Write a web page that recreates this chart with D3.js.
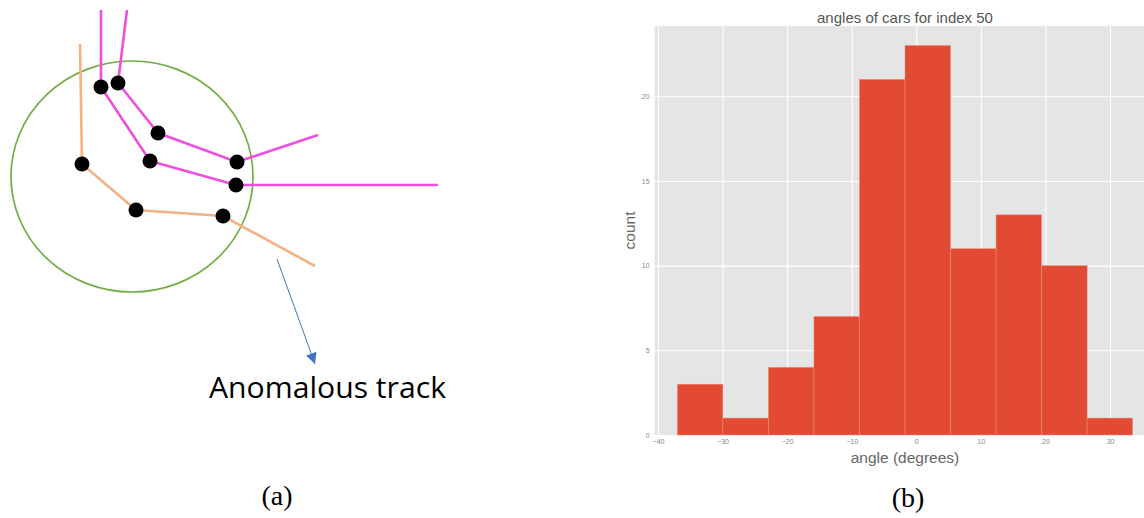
<!DOCTYPE html>
<html>
<head>
<meta charset="utf-8">
<script src="https://cdn.jsdelivr.net/npm/d3@7"></script>
<style>
  html, body { margin: 0; padding: 0; background: #fff; }
  svg { display: block; }
</style>
</head>
<body>
<svg id="fig" width="1144" height="518"></svg>
<script>
// ---------- panel (a): track diagram (sketch coordinates) ----------
const pinkTrackA = [[101, 10], [101, 87], [150, 161], [236, 185], [438, 185]];
const pinkTrackB = [[127, 10], [118, 83], [158, 133], [237, 162], [318, 135]];
const orangeTrack = [[80, 44], [82, 164], [136, 210], [223, 216], [315, 266]];
const detections = [
  [101, 87], [118, 83], [158, 133], [150, 161], [237, 162],
  [236, 185], [82, 164], [136, 210], [223, 216]
];
const gateCentre = [132, 176.5];
const gateRadii = [121, 115.5];
const arrowFrom = [277, 259];
const arrowTo = [315, 364];
const calloutText = "Anomalous track";

// ---------- panel (b): histogram ----------
const binEdges = [-37.0, -29.95, -22.9, -15.85, -8.8, -1.75, 5.3, 12.35, 19.4, 26.45, 33.5];
const counts = [3, 1, 4, 7, 21, 23, 11, 13, 10, 1];
const xTicks = [-40, -30, -20, -10, 0, 10, 20, 30];
const yTicks = [0, 5, 10, 15, 20];
const xDomain = [-40.525, 37.025];
const yDomain = [0, 24.15];
const histTitle = "angles of cars for index 50";
const xLabel = "angle (degrees)";
const yLabel = "count";

const svg = d3.select("#fig");

// ===== panel (a) =====
const sx = d3.scaleLinear().domain([0, 1]).range([0, 1]);
const sy = d3.scaleLinear().domain([0, 1]).range([0, 1]);
const line = d3.line().x(d => sx(d[0])).y(d => sy(d[1]));
const pa = svg.append("g");

pa.append("ellipse")
  .attr("cx", sx(gateCentre[0])).attr("cy", sy(gateCentre[1]))
  .attr("rx", gateRadii[0]).attr("ry", gateRadii[1])
  .attr("fill", "none").attr("stroke", "#70AD47").attr("stroke-width", 1.7);

[[pinkTrackA, "#EE4FDF"], [pinkTrackB, "#EE4FDF"], [orangeTrack, "#F4B183"]].forEach(([pts, c]) => {
  pa.append("path").attr("d", line(pts))
    .attr("fill", "none").attr("stroke", c).attr("stroke-width", 2.6)
    .attr("stroke-linejoin", "round");
});

pa.selectAll("circle.det").data(detections).join("circle")
  .attr("class", "det")
  .attr("cx", d => sx(d[0])).attr("cy", d => sy(d[1]))
  .attr("r", 7.5).attr("fill", "#000");

// arrow pointing to the callout
const defs = svg.append("defs");
defs.append("marker").attr("id", "tri")
  .attr("viewBox", "0 0 10 10").attr("refX", 10).attr("refY", 5)
  .attr("markerWidth", 11).attr("markerHeight", 11)
  .attr("markerUnits", "userSpaceOnUse").attr("orient", "auto")
  .append("path").attr("d", "M0,0 L10,5 L0,10 Z").attr("fill", "#4472C4");
pa.append("line")
  .attr("x1", sx(arrowFrom[0])).attr("y1", sy(arrowFrom[1]))
  .attr("x2", sx(arrowTo[0])).attr("y2", sy(arrowTo[1]))
  .attr("stroke", "#4472C4").attr("stroke-width", 1)
  .attr("marker-end", "url(#tri)");

pa.append("text")
  .attr("x", 209).attr("y", 398)
  .attr("font-family", "'Open Sans', 'Liberation Sans', sans-serif")
  .attr("font-size", 29)
  .attr("textLength", 237).attr("lengthAdjust", "spacingAndGlyphs")
  .attr("fill", "#000").text(calloutText);

pa.append("text")
  .attr("x", 277).attr("y", 505).attr("text-anchor", "middle")
  .attr("font-family", "'Liberation Serif', 'Times New Roman', serif")
  .attr("font-size", 28).attr("fill", "#000").text("(a)");

// ===== panel (b) =====
const x = d3.scaleLinear().domain(xDomain).range([654.6, 1155.4]);
const y = d3.scaleLinear().domain(yDomain).range([435, 26]);
const pb = svg.append("g");

pb.append("rect")
  .attr("x", x(xDomain[0])).attr("y", y(yDomain[1]))
  .attr("width", x(xDomain[1]) - x(xDomain[0]))
  .attr("height", y(yDomain[0]) - y(yDomain[1]))
  .attr("fill", "#E5E5E5");

const xAxis = pb.append("g")
  .attr("transform", `translate(0,${y(0)})`)
  .call(d3.axisBottom(x).tickValues(xTicks)
    .tickSize(-(y(0) - y(yDomain[1]))).tickPadding(4)
    .tickFormat(d => d < 0 ? "\u2212" + Math.abs(d) : d));
const yAxis = pb.append("g")
  .attr("transform", `translate(${x(xDomain[0])},0)`)
  .call(d3.axisLeft(y).tickValues(yTicks)
    .tickSize(-(x(xDomain[1]) - x(xDomain[0]))).tickPadding(5));

[xAxis, yAxis].forEach(g => {
  g.select(".domain").remove();
  g.selectAll(".tick line").attr("stroke", "#fff").attr("stroke-width", 1.1);
  g.selectAll(".tick text")
    .attr("font-family", "'Liberation Sans', Arial, sans-serif")
    .attr("font-size", 7).attr("fill", "#888");
});

pb.selectAll("rect.bar").data(counts).join("rect")
  .attr("class", "bar")
  .attr("x", (d, i) => x(binEdges[i]))
  .attr("width", (d, i) => x(binEdges[i + 1]) - x(binEdges[i]))
  .attr("y", d => y(d))
  .attr("height", d => y(0) - y(d))
  .attr("fill", "#E24A33")
  .attr("stroke", "#EC8F80").attr("stroke-width", 0.5);

const cx = (x(xDomain[0]) + x(xDomain[1])) / 2;
pb.append("text")
  .attr("x", cx).attr("y", 23).attr("text-anchor", "middle")
  .attr("font-family", "'Liberation Sans', Arial, sans-serif")
  .attr("font-size", 15).attr("fill", "#555").text(histTitle);

pb.append("text")
  .attr("x", cx).attr("y", 463).attr("text-anchor", "middle")
  .attr("font-family", "'Liberation Sans', Arial, sans-serif")
  .attr("font-size", 15.5).attr("fill", "#666").text(xLabel);

pb.append("text")
  .attr("transform", `translate(635,${(y(0) + y(yDomain[1])) / 2}) rotate(-90)`)
  .attr("text-anchor", "middle")
  .attr("font-family", "'Liberation Sans', Arial, sans-serif")
  .attr("font-size", 15.5).attr("fill", "#666").text(yLabel);

pb.append("text")
  .attr("x", 908).attr("y", 507).attr("text-anchor", "middle")
  .attr("font-family", "'Liberation Serif', 'Times New Roman', serif")
  .attr("font-size", 28).attr("fill", "#000").text("(b)");
</script>
</body>
</html>
